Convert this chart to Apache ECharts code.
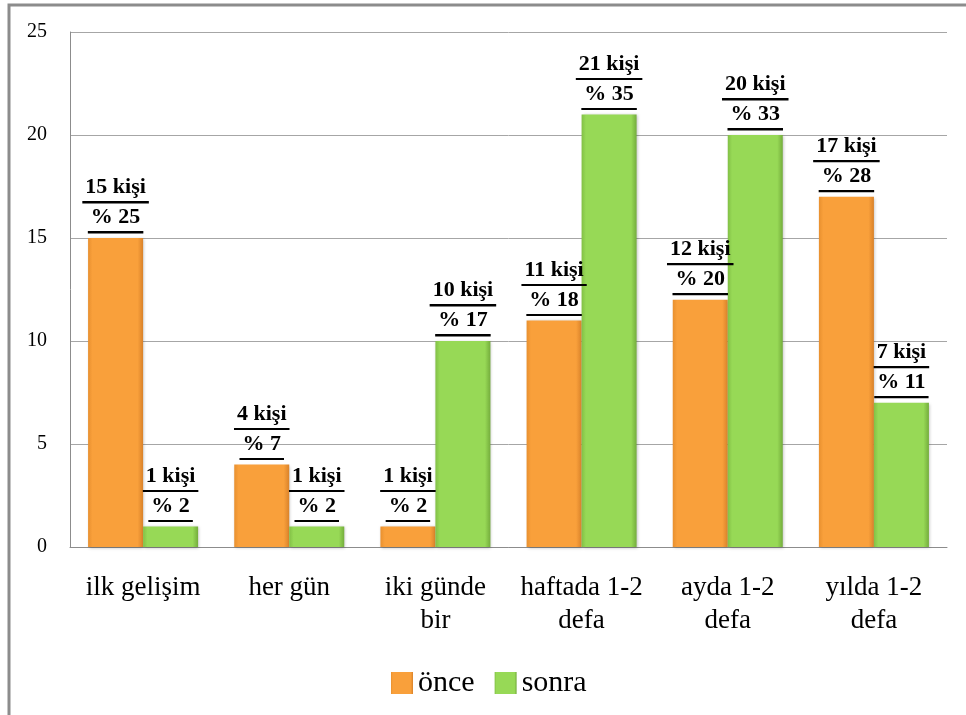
<!DOCTYPE html>
<html>
<head>
<meta charset="utf-8">
<title>önce / sonra</title>
<script src="https://cdn.jsdelivr.net/npm/echarts@6/dist/echarts.min.js"></script>
<style>
  html, body { margin: 0; padding: 0; background: #fff; }
  #chart { width: 966px; height: 715px; }
</style>
</head>
<body>
<div id="chart"></div>
<script>
const categories = ["ilk gelişim", "her gün", "iki günde\nbir", "haftada 1-2\ndefa", "ayda 1-2\ndefa", "yılda 1-2\ndefa"];
const onceValues = [15, 4, 1, 11, 12, 17];
const onceShares = [25, 7, 2, 18, 20, 28];
const sonraValues = [1, 1, 10, 21, 20, 7];
const sonraShares = [2, 2, 17, 35, 33, 11];

const serif = "'Liberation Serif', 'Times New Roman', serif";

// transparent box with a thin black strip at the bottom = underline
const underline = {
  type: "linear", x: 0, y: 0, x2: 0, y2: 1,
  colorStops: [
    { offset: 0, color: "rgba(0,0,0,0)" },
    { offset: 0.92, color: "rgba(0,0,0,0)" },
    { offset: 0.92, color: "#000" },
    { offset: 1, color: "#000" },
  ],
};

function bevel(edge, mid, dark) {
  return {
    type: "linear", x: 0, y: 0, x2: 1, y2: 0,
    colorStops: [
      { offset: 0, color: edge },
      { offset: 0.08, color: mid },
      { offset: 0.9, color: mid },
      { offset: 1, color: dark },
    ],
  };
}

function labelFor(shares) {
  return {
    show: true,
    position: "top",
    distance: 3,
    formatter: (p) => `{u|${p.value} kişi}\n{u|% ${shares[p.dataIndex]}}`,
    rich: {
      u: {
        fontFamily: serif,
        fontSize: 22,
        fontWeight: "bold",
        color: "#000",
        lineHeight: 30,
        padding: [0, 3, 5, 3],
        backgroundColor: underline,
      },
    },
  };
}

const chart = echarts.init(document.getElementById("chart"), null, { renderer: "canvas" });

chart.setOption({
  animation: false,
  textStyle: { fontFamily: serif },
  graphic: [{
    type: "rect",
    shape: { x: 9, y: 5, width: 1000, height: 800 },
    style: { fill: "none", stroke: "#8c8c8c", lineWidth: 3 },
    silent: true,
  }],
  grid: { left: 70, right: 19, top: 32, bottom: 168 },
  legend: {
    left: 386,
    top: 663,
    itemWidth: 22,
    itemHeight: 22,
    itemGap: 20,
    icon: "rect",
    textStyle: { fontFamily: serif, fontSize: 30, color: "#000" },
    data: ["önce", "sonra"],
  },
  xAxis: {
    type: "category",
    data: categories,
    axisTick: { show: false },
    axisLine: { lineStyle: { color: "#8c8c8c", width: 1 } },
    axisLabel: { fontFamily: serif, fontSize: 27, lineHeight: 33, color: "#000", margin: 24, interval: 0 },
  },
  yAxis: {
    type: "value",
    min: 0,
    max: 25,
    interval: 5,
    axisLine: { show: true, lineStyle: { color: "#8c8c8c", width: 1 } },
    axisTick: { show: false },
    axisLabel: { fontFamily: serif, fontSize: 20, color: "#000", margin: 23 },
    splitLine: { lineStyle: { color: "#a6a6a6", width: 1 } },
  },
  series: [
    {
      name: "önce",
      type: "bar",
      data: onceValues,
      barWidth: 55,
      barGap: "0%",
      itemStyle: {
        color: bevel("#e8902f", "#f9a03b", "#d9822a"),
        shadowColor: "rgba(0,0,0,0.25)",
        shadowBlur: 3,
        shadowOffsetX: 1,
        shadowOffsetY: 1,
      },
      label: labelFor(onceShares),
    },
    {
      name: "sonra",
      type: "bar",
      data: sonraValues,
      barWidth: 55,
      barGap: "0%",
      itemStyle: {
        color: bevel("#82c046", "#97d956", "#74ad3c"),
        shadowColor: "rgba(0,0,0,0.25)",
        shadowBlur: 3,
        shadowOffsetX: 1,
        shadowOffsetY: 1,
      },
      label: labelFor(sonraShares),
    },
  ],
});
</script>
</body>
</html>
